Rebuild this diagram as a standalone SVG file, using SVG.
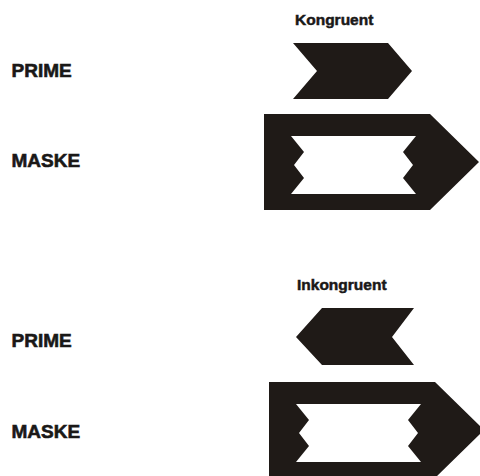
<svg xmlns="http://www.w3.org/2000/svg" width="480" height="476" viewBox="0 0 480 476">
<style>
.lbl{font-family:"Liberation Sans",Arial,sans-serif;font-weight:bold;font-size:19px;fill:#1a1817;stroke:#1a1817;stroke-width:0.6px}
.ttl{font-family:"Liberation Sans",Arial,sans-serif;font-weight:bold;font-size:15.5px;fill:#1a1817;stroke:#1a1817;stroke-width:0.5px}
.shape{fill:#1f1a17;fill-rule:evenodd}
</style>
<defs>
<path id="mask" class="shape" d="M264,114 H430 L479,162 L430,210 H264 Z M291,136 H416 L403,152 L413,165 L403,178 L416,194 H291 L304,178 L294,165 L304,152 Z"/>
</defs>
<rect width="480" height="476" fill="#ffffff"/>
<g id="title-kongruent"><text class="ttl" x="295" y="25">Kongruent</text></g>
<g id="label-prime-1"><text class="lbl" x="11.5" y="76.5">PRIME</text></g>
<g id="prime-1"><path class="shape" d="M293,43 L388,43 L412,71 L388,99 L293,99 L317,71 Z"/></g>
<g id="label-maske-1"><text class="lbl" x="11.5" y="166.5">MASKE</text></g>
<g id="maske-1"><use href="#mask"/></g>
<g id="title-inkongruent"><text class="ttl" x="297" y="290">Inkongruent</text></g>
<g id="label-prime-2"><text class="lbl" x="11.5" y="346.5">PRIME</text></g>
<g id="prime-2"><path class="shape" d="M322,308 L414,308 L392,337 L414,365 L322,365 L296,337 Z"/></g>
<g id="label-maske-2"><text class="lbl" x="11.5" y="437.5">MASKE</text></g>
<g id="maske-2"><use href="#mask" transform="translate(5,268)"/></g>
<g id="connectors"></g>
</svg>
